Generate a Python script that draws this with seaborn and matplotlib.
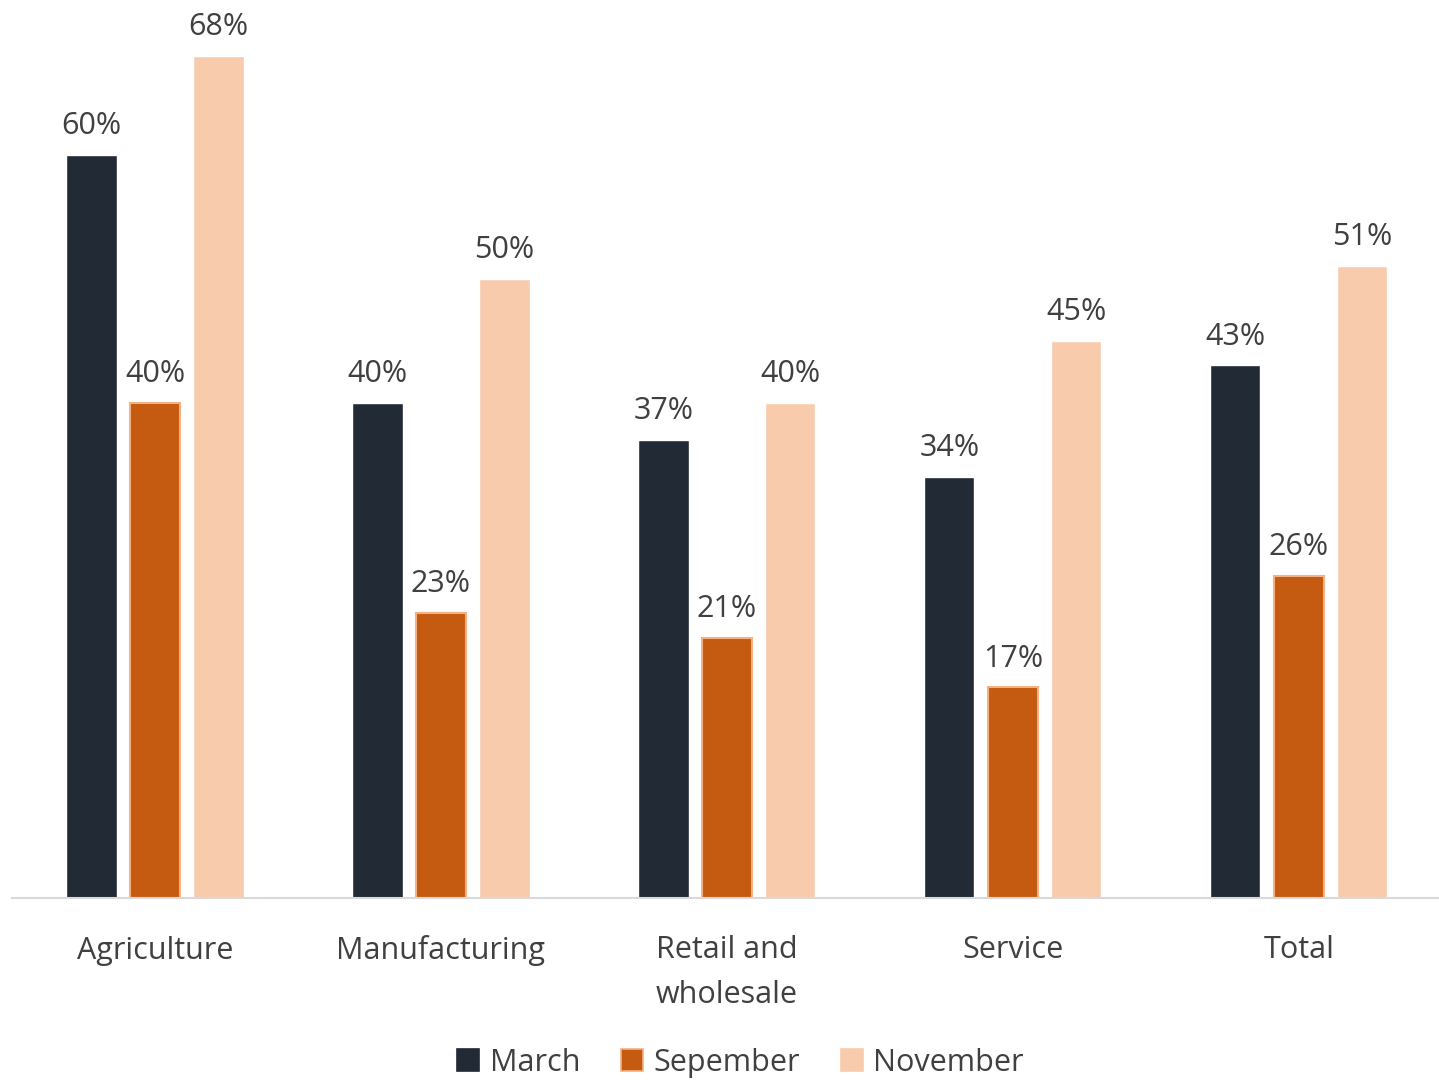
import numpy as np
import pandas as pd
import seaborn as sns
import matplotlib.pyplot as plt
from matplotlib.lines import Line2D

# Data
sectors = ["Agriculture", "Manufacturing", "Retail and\nwholesale", "Service", "Total"]
months = ["March", "Sepember", "November"]
march = [60, 40, 37, 34, 43]
september = [40, 23, 21, 17, 26]
november = [68, 50, 40, 45, 51]

colors = ["#222a35", "#c55a11", "#f8cbad"]
text_color = "#404040"

df = pd.DataFrame({
    "sector": sectors * 3,
    "month": [months[0]] * 5 + [months[1]] * 5 + [months[2]] * 5,
    "value": march + september + november,
})

sns.set_style("white")
plt.rcParams["font.family"] = ["Open Sans", "DejaVu Sans"]

fig = plt.figure(figsize=(14.39, 10.81), dpi=100)
ax = fig.add_axes([12 / 1439, 183 / 1081, 1 - 12 / 1439, 1 - 183 / 1081])

sns.barplot(data=df, x="sector", y="value", hue="month", order=sectors,
            hue_order=months, palette=colors, width=0.666, gap=0.21,
            saturation=1, legend=False, ax=ax)

# September bars carry a light orange outline
for bar in ax.containers[1]:
    bar.set_edgecolor("#f4b183")
    bar.set_linewidth(1.5)

for cont in ax.containers:
    ax.bar_label(cont, fmt="%d%%", padding=10, fontsize=22, color=text_color)

ax.set_ylim(0, 72.5)
ax.set_xlim(-0.5, 4.49)
ax.set_xlabel("")
ax.set_ylabel("")
ax.set_yticks([])
ax.tick_params(axis="x", length=0, pad=27, labelsize=22, labelcolor=text_color)
for lbl in ax.get_xticklabels():
    lbl.set_linespacing(1.65)
for s in ["top", "left", "right"]:
    ax.spines[s].set_visible(False)
ax.spines["bottom"].set_color("#d9d9d9")
ax.spines["bottom"].set_linewidth(1.5)

handles = [Line2D([], [], marker="s", linestyle="", markersize=16,
                  markerfacecolor=c, markeredgecolor=e, markeredgewidth=1.2)
           for c, e in zip(colors, ["#222a35", "#f4b183", "#f8cbad"])]
fig.legend(handles, months, loc="center", bbox_to_anchor=(0.511, 0.017),
           ncol=3, frameon=False, fontsize=22, labelcolor=text_color,
           handletextpad=0.0, handlelength=1.4, columnspacing=1.0)

fig.savefig("out.png", dpi=100)
